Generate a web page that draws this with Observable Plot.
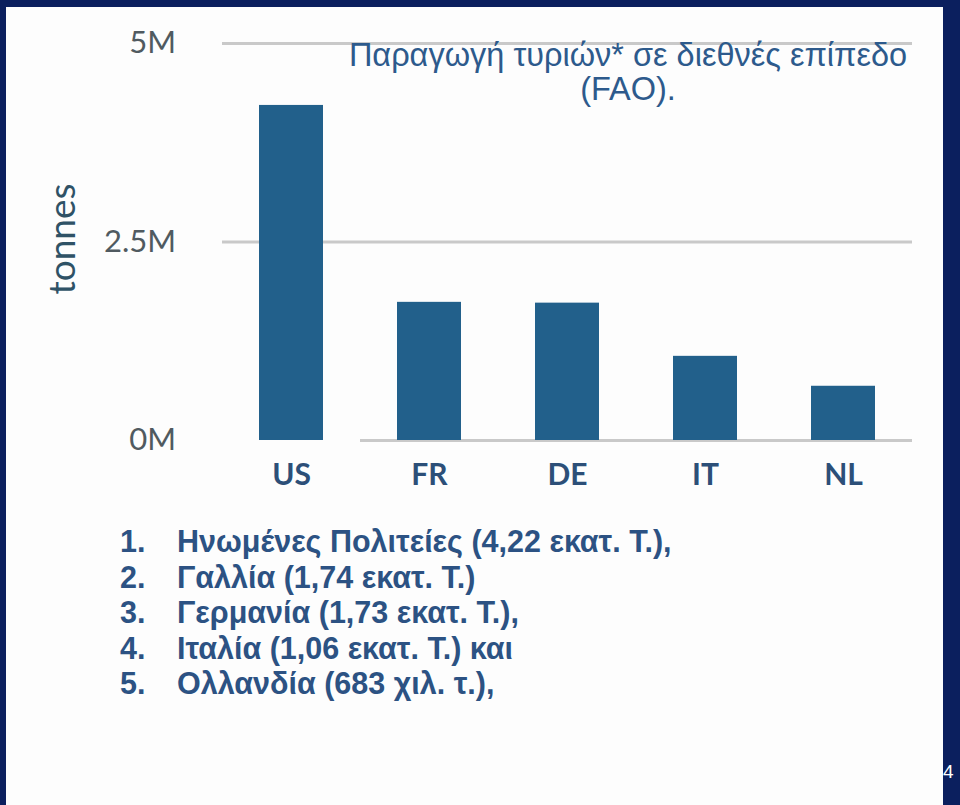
<!DOCTYPE html>
<html>
<head>
<meta charset="utf-8">
<script src="https://cdn.jsdelivr.net/npm/d3@7"></script>
<script src="https://cdn.jsdelivr.net/npm/@observablehq/plot@0.6"></script>
<style>
  html, body { margin: 0; padding: 0; }
  body { width: 960px; height: 805px; background: #0b1f5e; position: relative; overflow: hidden; font-family: "Liberation Sans", Arial, sans-serif; }
  #page { position: absolute; left: 6px; top: 7px; width: 937px; height: 798px; background: #fdfdfd; }
  #chart { position: absolute; left: 0; top: 0; }
  #title { position: absolute; left: 300px; width: 656px; top: 38px; text-align: center; color: #2d5a8c; font-size: 32.5px; line-height: 34px; }
  #list { position: absolute; left: 120px; top: 524px; color: #2c5283; font-weight: bold; font-size: 30.5px; line-height: 35.5px; }
  #list div { display: flex; white-space: nowrap; }
  #list span.n { width: 57px; display: inline-block; }
  #pnum { position: absolute; left: 943px; top: 761px; color: #fff; font-size: 19px; }
</style>
</head>
<body>
<div id="page"></div>
<div id="chart"></div>
<div id="title">Παραγωγή τυριών* σε διεθνές επίπεδο<br>(FAO).</div>
<div id="list"></div>
<div id="pnum">4</div>
<script>
const countries = ["US", "FR", "DE", "IT", "NL"];
const production = [4.22e6, 1.74e6, 1.73e6, 1.06e6, 0.683e6];
const yTicks = [0, 2.5e6, 5e6];
const yTickLabels = ["0M", "2.5M", "5M"];
const listItems = [
  "Ηνωμένες Πολιτείες (4,22 εκατ. Τ.),",
  "Γαλλία (1,74 εκατ. Τ.)",
  "Γερμανία (1,73 εκατ. Τ.),",
  "Ιταλία (1,06 εκατ. Τ.) και",
  "Ολλανδία (683 χιλ. τ.),"
];

const data = countries.map((c, i) => ({country: c, value: production[i]}));
const gridData = countries.flatMap(c => [2.5e6, 5e6].map(v => ({country: c, value: v})));
const baseData = countries.slice(1).map(c => ({country: c, value: 0}));

const chart = Plot.plot({
  width: 960,
  height: 505,
  marginTop: 43,
  marginBottom: 65,
  marginLeft: 219.5,
  marginRight: 46.5,
  style: {background: "transparent", overflow: "visible"},
  x: {domain: countries, padding: 0},
  y: {domain: [0, 5e6]},
  marks: [
    Plot.tickY(gridData, {x: "country", y: "value", stroke: "#c9c9c9", strokeWidth: 3}),
    Plot.tickY(baseData, {x: "country", y: "value", stroke: "#c9c9c9", strokeWidth: 3}),
    Plot.barY(data, {x: "country", y: "value", fill: "#22608b", insetLeft: 37, insetRight: 37}),
    Plot.axisY({ticks: yTicks, tickFormat: (d) => yTickLabels[yTicks.indexOf(d)], tickSize: 0, tickPadding: 44,
      fontSize: 31, fontFamily: "Lato", fill: "#505a60", label: null}),
    Plot.text(["tonnes"], {frameAnchor: "left", textAnchor: "middle", rotate: -90, dx: -157, dy: -3, fontSize: 37, fontFamily: "Lato", fill: "#2f5266"}),
    Plot.axisX({tickSize: 0, tickPadding: 23, fontSize: 30, fontFamily: "Lato", fontWeight: "bold", fill: "#2c4f78", label: null})
  ]
});
document.getElementById("chart").appendChild(chart);

const list = document.getElementById("list");
listItems.forEach((t, i) => {
  const row = document.createElement("div");
  const n = document.createElement("span");
  n.className = "n";
  n.textContent = (i + 1) + ".";
  const s = document.createElement("span");
  s.textContent = t;
  row.appendChild(n);
  row.appendChild(s);
  list.appendChild(row);
});
</script>
</body>
</html>
